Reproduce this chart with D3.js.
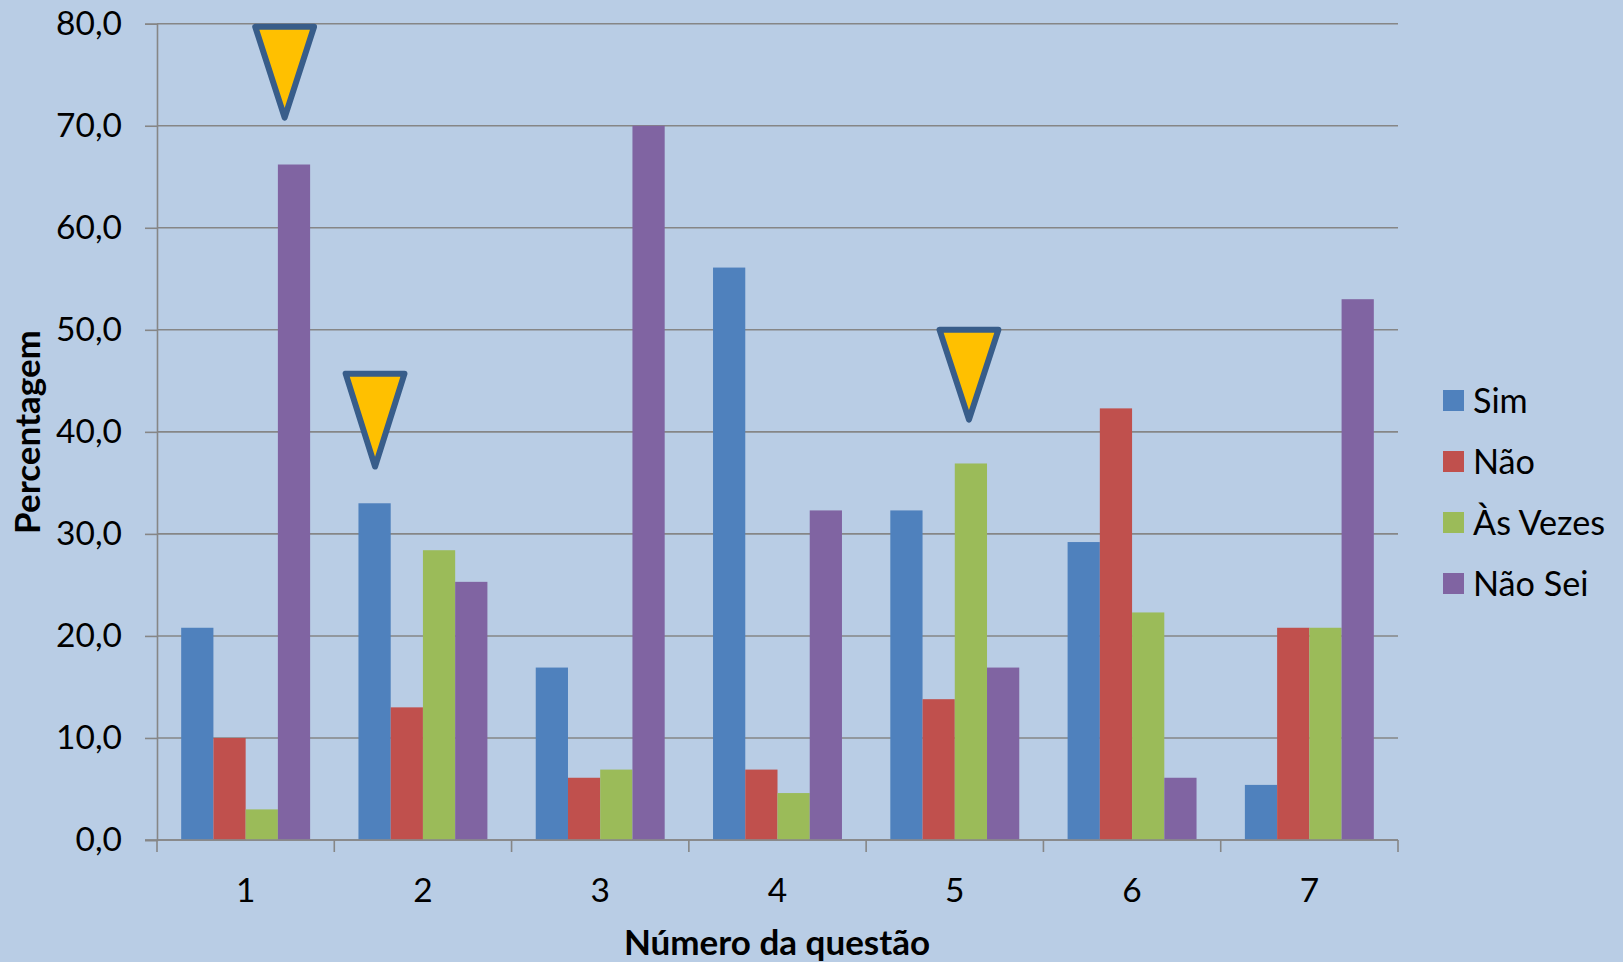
<!DOCTYPE html>
<html><head><meta charset="utf-8">
<script src="https://cdn.jsdelivr.net/npm/d3@7"></script>
<style>
html,body{margin:0;padding:0;background:#B9CDE5;overflow:hidden}
text{font-family:Lato,"Open Sans",sans-serif;fill:#000}
</style></head><body><svg id="c" width="1623" height="962"></svg>
<script>
const questions=[1,2,3,4,5,6,7];
const seriesNames=["Sim","Não","Às Vezes","Não Sei"];
const sim=[20.8,33.0,16.9,56.1,32.3,29.2,5.4];
const nao=[10.0,13.0,6.1,6.9,13.8,42.3,20.8];
const asVezes=[3.0,28.4,6.9,4.6,36.9,22.3,20.8];
const naoSei=[66.2,25.3,70.0,32.3,16.9,6.1,53.0];
const colors=["#4F81BD","#C0504D","#9BBB59","#8064A2"];
const yTicks=[0,10,20,30,40,50,60,70,80];
const markerQ=[1.22,1.73,5.08];
const markerTop=[79.7,45.7,50.0];
const markerTip=[70.8,36.6,41.2];
const values=[sim,nao,asVezes,naoSei];

const L=157,R=1398,T=23.7,B=840;
const svg=d3.select("#c");
const x=d3.scaleBand().domain(questions).range([L,R]).paddingInner(0.2727).paddingOuter(0.1364);
const xs=d3.scaleBand().domain(seriesNames).range([0,x.bandwidth()]);
const y=d3.scaleLinear().domain([0,80]).range([B,T]);
const xm=d3.scaleLinear().domain([0.5,7.5]).range([L,R]);
const fmt=d3.formatLocale({decimal:",",thousands:".",grouping:[3],currency:["",""]}).format(".1f");
const GRID="#868686";

const ya=svg.append("g").attr("transform",`translate(${L},0)`)
 .call(d3.axisLeft(y).tickValues(yTicks).tickFormat(fmt).tickSize(12).tickPadding(23));
ya.select(".domain").attr("stroke",GRID).attr("stroke-width",1.6);
ya.selectAll(".tick line").attr("stroke",GRID).attr("stroke-width",1.6);
ya.selectAll(".tick text").style("font-size","33.5px").style("font-family","Lato").attr("fill","#000");
svg.insert("g",":first-child").selectAll("line").data(yTicks).join("line")
 .attr("x1",L).attr("x2",R).attr("y1",d=>y(d)).attr("y2",d=>y(d))
 .attr("stroke",GRID).attr("stroke-width",1.6);

const xa=svg.append("g").attr("transform",`translate(0,${B})`)
 .call(d3.axisBottom(x).tickSize(0).tickPadding(38));
xa.select(".domain").remove();
xa.selectAll(".tick text").style("font-size","33.5px").style("font-family","Lato").attr("fill","#000");
svg.append("g").selectAll("line").data(d3.range(0,8)).join("line")
 .attr("x1",d=>xm(d+0.5)).attr("x2",d=>xm(d+0.5)).attr("y1",B).attr("y2",B+12)
 .attr("stroke",GRID).attr("stroke-width",1.6);
svg.append("line").attr("x1",L-12).attr("x2",R).attr("y1",B).attr("y2",B).attr("stroke",GRID).attr("stroke-width",1.6);

values.forEach((vals,si)=>{
 svg.append("g").attr("fill",colors[si]).selectAll("rect").data(vals).join("rect")
  .attr("x",(d,i)=>x(questions[i])+xs(seriesNames[si]))
  .attr("width",xs.bandwidth())
  .attr("y",d=>y(d)).attr("height",d=>B-y(d)-0.8);
});

const halfW=0.166;
svg.append("g").selectAll("path").data(markerQ).join("path")
 .attr("d",(q,i)=>d3.line()([[xm(q-halfW),y(markerTop[i])],[xm(q+halfW),y(markerTop[i])],[xm(q),y(markerTip[i])]])+"Z")
 .attr("fill","#FFC000").attr("stroke","#385D8A").attr("stroke-width",6).attr("stroke-linejoin","round");

svg.append("text").attr("x",777).attr("y",954.5).attr("text-anchor","middle")
 .style("font-size","35px").style("font-weight","700").text("Número da questão");
svg.append("text").attr("transform","translate(39.5,432) rotate(-90)").attr("text-anchor","middle")
 .style("font-size","35px").style("font-weight","700").text("Percentagem");

const ly=d3.scalePoint().domain(seriesNames).range([400.5,583.5]);
const lg=svg.append("g").selectAll("g").data(seriesNames).join("g");
lg.append("rect").attr("x",1443).attr("y",d=>ly(d)-10.5).attr("width",21).attr("height",21).attr("fill",(d,i)=>colors[i]);
lg.append("text").attr("x",1473).attr("y",d=>ly(d)+12).style("font-size","34.2px").text(d=>d);
</script></body></html>
